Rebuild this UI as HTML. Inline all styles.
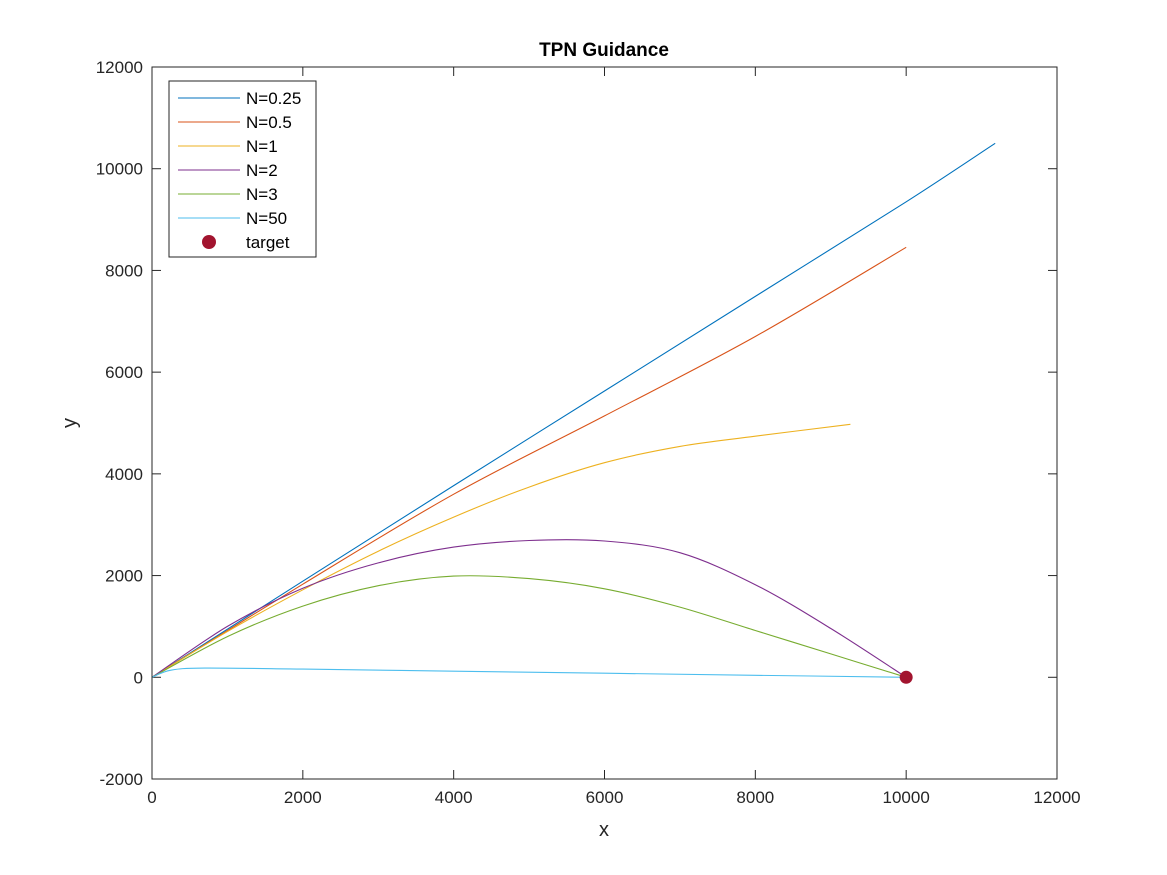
<!DOCTYPE html>
<html><head><meta charset="utf-8"><style>
html,body{margin:0;padding:0;background:#fff;}
svg{display:block;font-family:"Liberation Sans",Arial,sans-serif;}
</style></head><body>
<svg id="chart" width="1167" height="875">
<rect x="0" y="0" width="1167" height="875" fill="#fff"/>
<text x="604" y="56" text-anchor="middle" font-size="19" font-weight="bold" fill="#000">TPN Guidance</text>
<g id="axes"></g>
<g id="series"></g>
<rect x="152" y="67" width="905" height="712" fill="none" stroke="#262626" stroke-width="1"/>
<text x="604" y="836" text-anchor="middle" font-size="20" fill="#262626">x</text>
<text x="76" y="423" text-anchor="middle" font-size="20" fill="#262626" transform="rotate(-90 76 423)">y</text>
<g id="legend"></g>
</svg>
<script>
const xTicks=[0,2000,4000,6000,8000,10000,12000];
const yTicks=[-2000,0,2000,4000,6000,8000,10000,12000];
const seriesNames=["N=0.25","N=0.5","N=1","N=2","N=3","N=50"];
const seriesColors=["#0072bd","#d95319","#edb120","#7e2f8e","#77ac30","#4dbeee"];
const x025=[0,2000,4000,6000,8000,10000,11180];
const y025=[0,1890,3770,5630,7490,9350,10500];
const x05=[0,2000,4000,6000,8000,10000];
const y05=[0,1830,3600,5140,6700,8455];
const x1=[0,1000,2000,3000,4000,5000,6000,7000,8000,9260];
const y1=[0,900,1720,2480,3150,3740,4220,4540,4740,4975];
const x2=[0,1000,2000,3000,4000,5000,6000,7000,8000,9000,10000];
const y2=[0,1000,1750,2250,2560,2690,2680,2450,1820,960,0];
const x3=[0,1000,2000,3000,4000,5000,6000,7000,8000,9000,10000];
const y3=[0,800,1400,1800,1990,1940,1740,1380,920,460,0];
const x50=[0,250,700,2000,4000,6000,8000,10000];
const y50=[0,140,180,160,120,80,40,0];
const targetX=[10000];
const targetY=[0];
const xs=[x025,x05,x1,x2,x3,x50];
const ys=[y025,y05,y1,y2,y3,y50];

const NS="http://www.w3.org/2000/svg";
const X0=152,X1=1057,Y0=779,Y1=67;
function sx(v){return X0+(v-0)/(12000-0)*(X1-X0);}
function sy(v){return Y0-(v+2000)/(14000)*(Y0-Y1);}
function mk(tag,attrs,parent){const e=document.createElementNS(NS,tag);for(const k in attrs)e.setAttribute(k,attrs[k]);parent.appendChild(e);return e;}
function smoothPath(p){
  let d='M'+p[0][0].toFixed(1)+','+p[0][1].toFixed(1);
  for(let i=0;i<p.length-1;i++){
    const p0=p[i-1]||p[i],p1=p[i],p2=p[i+1],p3=p[i+2]||p[i+1];
    const c1x=p1[0]+(p2[0]-p0[0])/6,c1y=p1[1]+(p2[1]-p0[1])/6;
    const c2x=p2[0]-(p3[0]-p1[0])/6,c2y=p2[1]-(p3[1]-p1[1])/6;
    d+=' C'+c1x.toFixed(1)+','+c1y.toFixed(1)+' '+c2x.toFixed(1)+','+c2y.toFixed(1)+' '+p2[0].toFixed(1)+','+p2[1].toFixed(1);
  }
  return d;
}

const axes=document.getElementById('axes');
xTicks.forEach(t=>{
  const p=sx(t);
  const l1=mk('line',{x1:p,x2:p,y1:Y0,y2:Y0-9,stroke:'#262626'},axes);
  
  
  const l2=mk('line',{x1:p,x2:p,y1:Y1,y2:Y1+9,stroke:'#262626'},axes);
  
  
  const tx=mk('text',{x:p,y:Y0+24,'text-anchor':'middle','font-size':'17',fill:'#262626'},axes);
  tx.textContent=t;
  
  
});
yTicks.forEach(t=>{
  const p=sy(t);
  const l1=mk('line',{x1:X0,x2:X0+9,y1:p,y2:p,stroke:'#262626'},axes);
  
  
  const l2=mk('line',{x1:X1,x2:X1-9,y1:p,y2:p,stroke:'#262626'},axes);
  
  
  const tx=mk('text',{x:X0-9,y:p+6,'text-anchor':'end','font-size':'17',fill:'#262626'},axes);
  tx.textContent=t;
  
  
});

const sg=document.getElementById('series');
xs.forEach((xa,i)=>{
  const pts=xa.map((v,j)=>[sx(v),sy(ys[i][j])]);
  const pl=mk('path',{d:smoothPath(pts),fill:'none',stroke:seriesColors[i],'stroke-width':'1.1'},sg);
  
  
});
targetX.forEach((v,j)=>{
  const c=mk('circle',{cx:sx(v),cy:sy(targetY[j]),r:6.5,fill:'#a2142f'},sg);
  
  
});

const lg=document.getElementById('legend');
const box=mk('rect',{x:169,y:81,width:147,height:176,fill:'#fff',stroke:'#262626','stroke-width':'1'},lg);


seriesNames.forEach((n,i)=>{
  const y=98+i*24;
  const l=mk('line',{x1:178,x2:240,y1:y,y2:y,stroke:seriesColors[i],'stroke-width':'1'},lg);
  
  
  const t=mk('text',{x:246,y:y+6,'font-size':'17',fill:'#000'},lg);
  t.textContent=n;
  
  
});
const ly=98+6*24;
const lc=mk('circle',{cx:209,cy:ly,r:7,fill:'#a2142f'},lg);


const lt=mk('text',{x:246,y:ly+6,'font-size':'17',fill:'#000'},lg);
lt.textContent='target';


</script>
</body></html>
